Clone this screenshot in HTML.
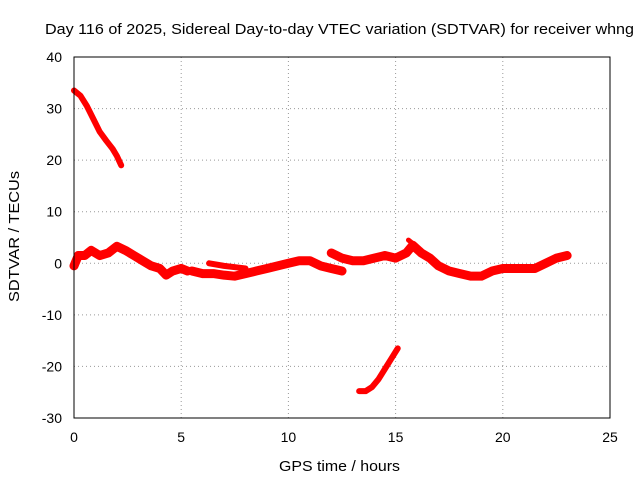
<!DOCTYPE html>
<html><head><meta charset="utf-8">
<style>
body{margin:0;background:#fff;}
svg{display:block;font-family:"Liberation Sans",sans-serif;}
</style></head>
<body>
<svg id="chart" width="640" height="480">
<text x="45" y="34" font-size="15" textLength="589" lengthAdjust="spacingAndGlyphs">Day 116 of 2025, Sidereal Day-to-day VTEC variation (SDTVAR) for receiver whng</text>
<text x="279" y="471" font-size="15" textLength="121" lengthAdjust="spacingAndGlyphs">GPS time / hours</text>
<text transform="translate(19,302) rotate(-90)" font-size="15" textLength="131" lengthAdjust="spacingAndGlyphs">SDTVAR / TECUs</text>
<g id="grid"></g><g id="ticks"></g><g id="series"></g>
<rect x="74" y="57" width="536" height="361" fill="none" stroke="#000" stroke-width="1"/>
</svg>
<script>
const xTicks=[0,5,10,15,20,25];
const yTicks=[-30,-20,-10,0,10,20,30,40];
const arcA=[[0,33.5],[0.3,32.5],[0.6,30.5],[0.9,28],[1.2,25.5],[1.5,23.8],[1.8,22.2],[2.0,20.8],[2.2,19]];
const arcB=[[13.3,-24.8],[13.6,-24.8],[13.9,-24],[14.2,-22.5],[14.5,-20.5],[14.8,-18.5],[15.1,-16.5]];
const bandA=[[0,-0.5],[0.2,1.5],[0.5,1.5],[0.8,2.5],[1.2,1.5],[1.6,2],[2,3.3],[2.4,2.5],[2.8,1.5],[3.2,0.5],[3.6,-0.5],[4,-1],[4.3,-2.3],[4.6,-1.5],[5,-1],[5.3,-1.5]];
const bandB=[[5.5,-1.5],[6,-2],[6.5,-2],[7,-2.3],[7.5,-2.5],[8,-2],[8.5,-1.5],[9,-1],[9.5,-0.5],[10,0],[10.5,0.5],[11,0.5],[11.5,-0.5],[12,-1],[12.5,-1.5]];
const bandC=[[6.3,0],[7,-0.5],[8,-1]];
const bandD=[[12,2],[12.5,1],[13,0.5],[13.5,0.5],[14,1],[14.5,1.5],[15,1],[15.5,2],[15.8,3.5],[16.2,2],[16.6,1],[17,-0.5],[17.5,-1.5],[18,-2],[18.5,-2.5],[19,-2.5],[19.5,-1.5],[20,-1],[20.5,-1],[21,-1],[21.5,-1],[22,0],[22.5,1],[23,1.5]];
const bandE=[[15.6,4.5],[16.2,2.5]];
const X=v=>74+v*(536/25), Y=v=>57+(40-v)*(361/70);
const ns="http://www.w3.org/2000/svg";
function mk(t,a,p){const e=document.createElementNS(ns,t);for(const k in a)e.setAttribute(k,a[k]);p.appendChild(e);return e;}
const g=document.getElementById('grid'),tk=document.getElementById('ticks'),s=document.getElementById('series');
xTicks.forEach(v=>{
 if(v>0&&v<25){const l=mk('line',{x1:X(v),x2:X(v),y1:57,y2:418,stroke:'#999','stroke-dasharray':'1,3'},g);
 
 }
 const t=mk('text',{x:X(v),y:442,'font-size':14,'text-anchor':'middle'},tk);t.textContent=v;
 
 
});
yTicks.forEach(v=>{
 if(v>-30&&v<40){const l=mk('line',{x1:74,x2:610,y1:Y(v),y2:Y(v),stroke:'#999','stroke-dasharray':'1,3'},g);
 
 }
 const t=mk('text',{x:62,y:Y(v)+5,'font-size':14,'text-anchor':'end'},tk);t.textContent=v;
 
 
});
[[arcA,6],[arcB,6],[bandA,9],[bandB,9],[bandC,6],[bandD,9],[bandE,5]].forEach(([d,w])=>{
 const p=mk('polyline',{points:d.map(q=>X(q[0])+','+Y(q[1])).join(' '),fill:'none',stroke:'#f00','stroke-width':w,'stroke-linejoin':'round','stroke-linecap':'round'},s);
 
 
});
</script>
</body></html>
